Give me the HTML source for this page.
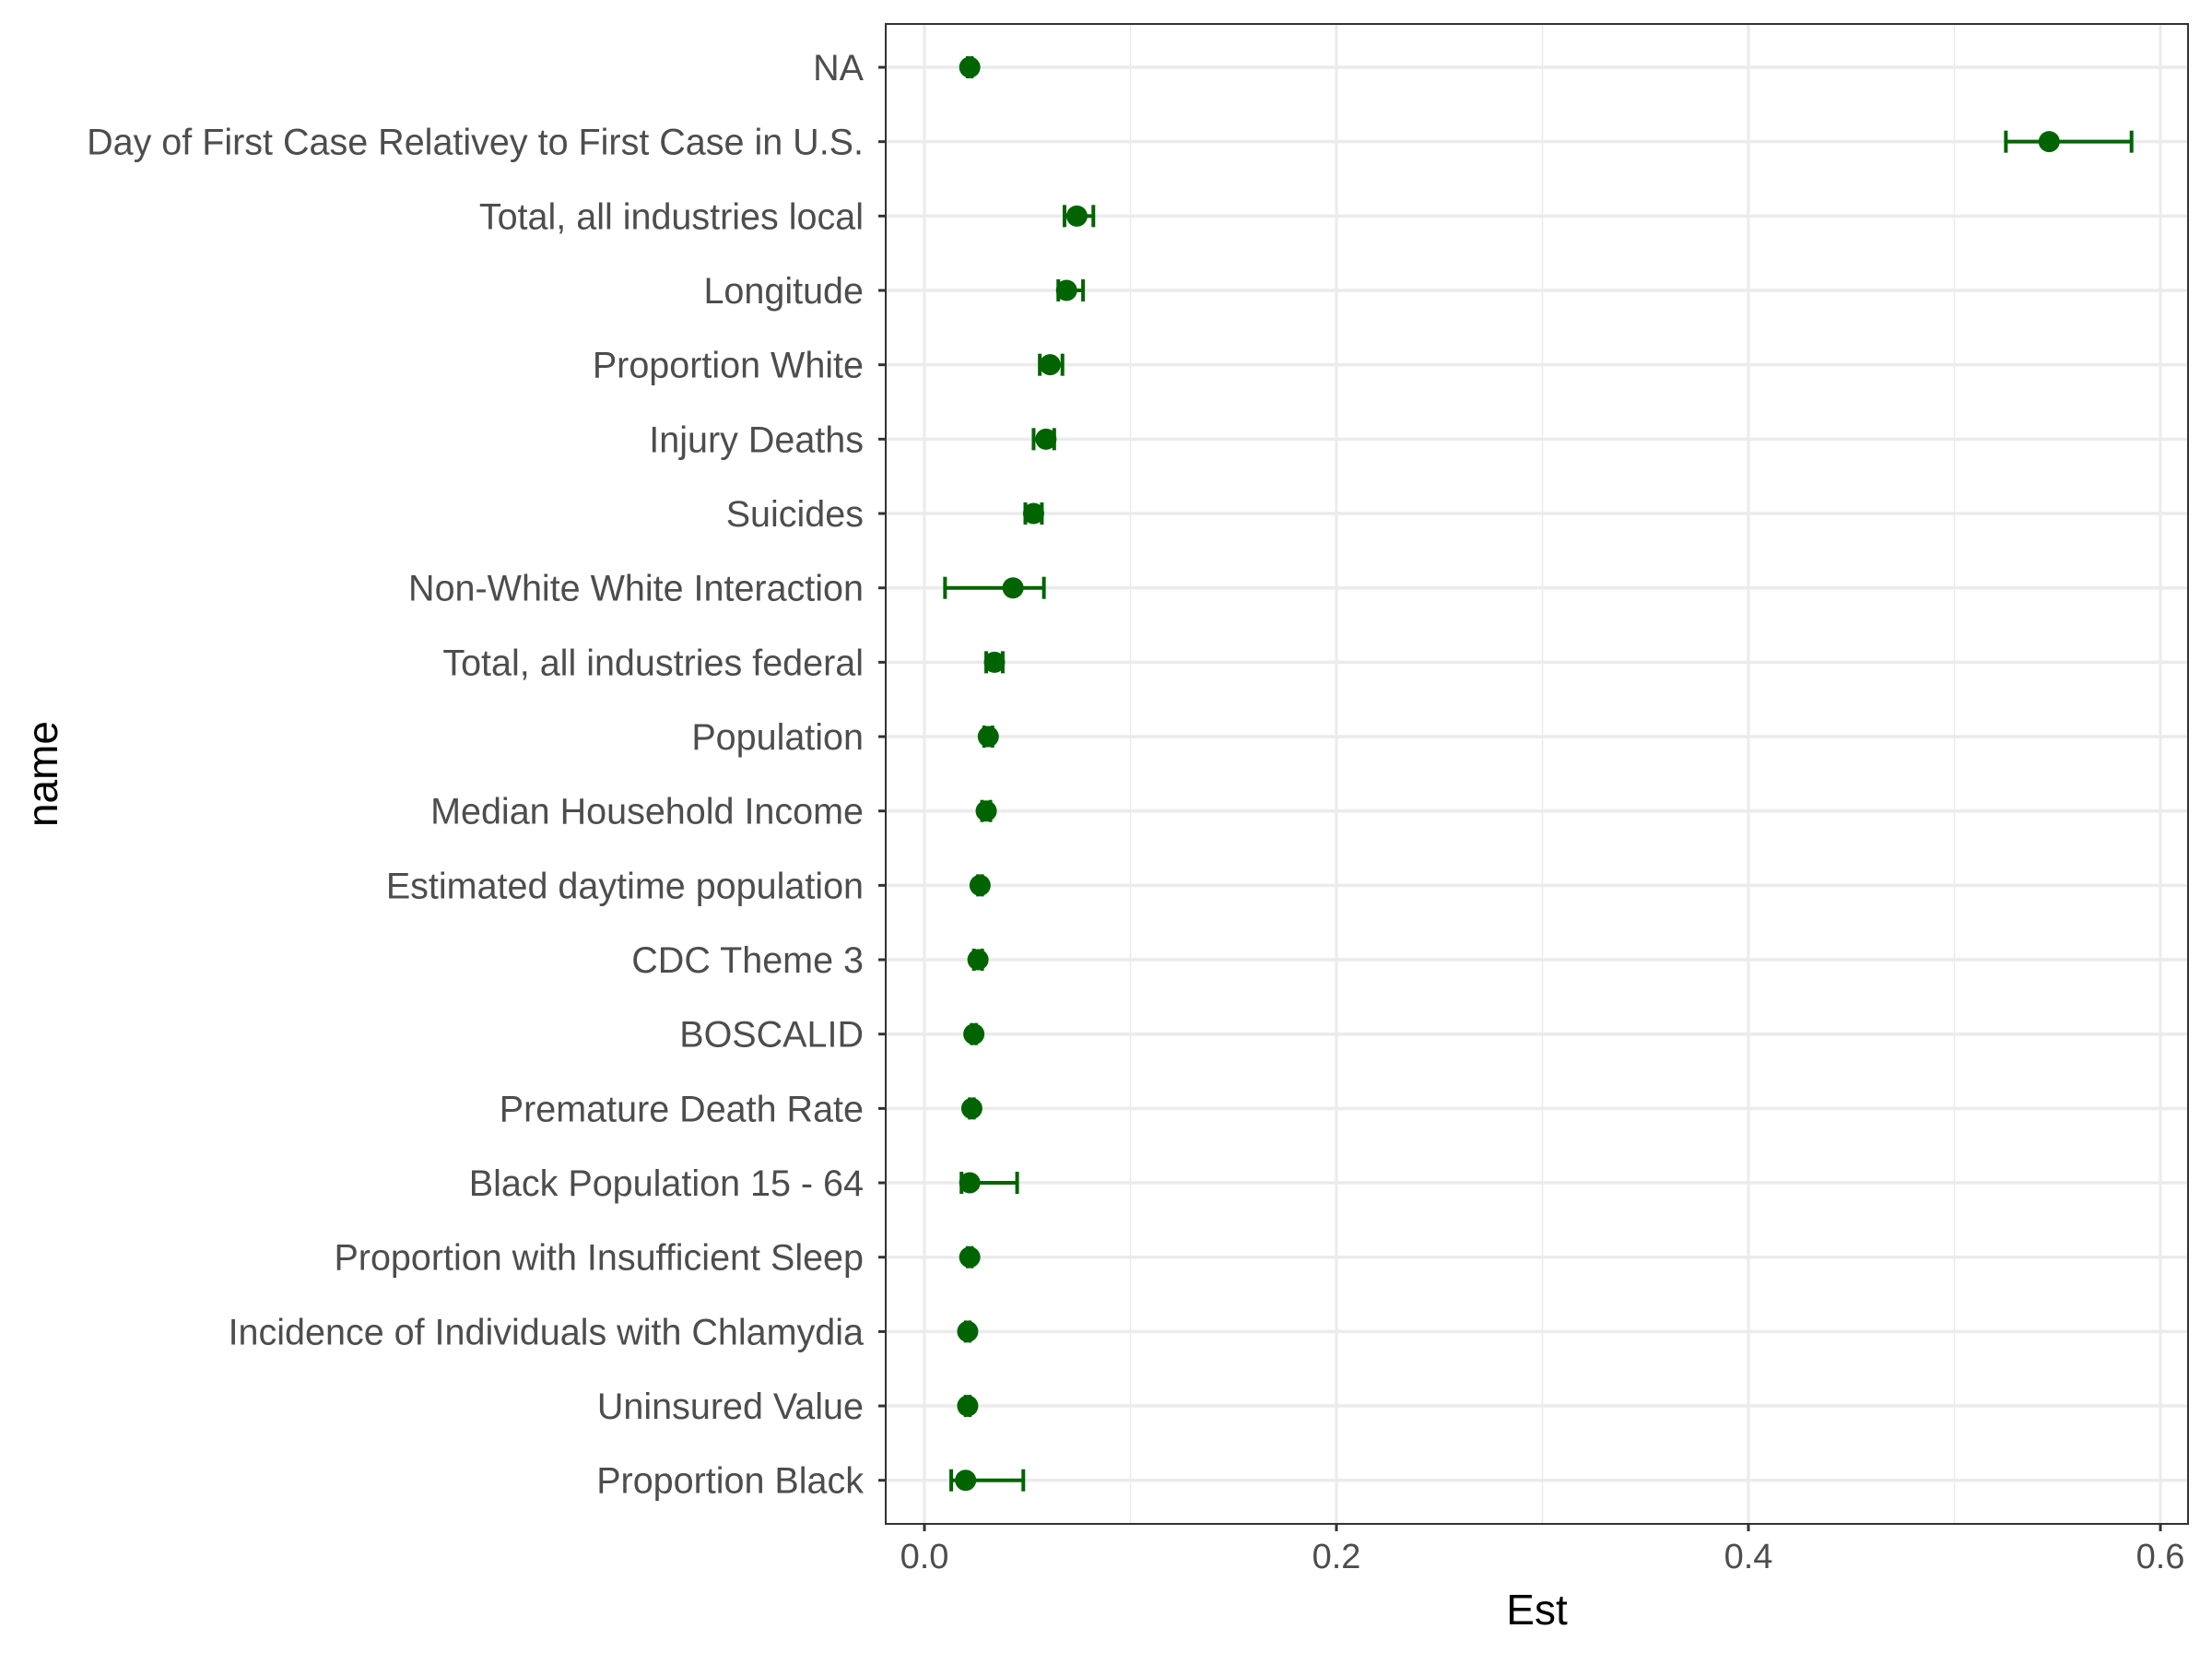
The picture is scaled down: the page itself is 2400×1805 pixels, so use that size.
<!DOCTYPE html>
<html><head><meta charset="utf-8"><style>
body{margin:0;background:#fff}
svg text{font-family:"Liberation Sans",Arial,sans-serif}
</style></head><body>
<svg id="chart" width="2400" height="1800" xmlns="http://www.w3.org/2000/svg"></svg>
<script>
const categories=["NA","Day of First Case Relativey to First Case in U.S.","Total, all industries local","Longitude","Proportion White","Injury Deaths","Suicides","Non-White White Interaction","Total, all industries federal","Population","Median Household Income","Estimated daytime population","CDC Theme 3","BOSCALID","Premature Death Rate","Black Population 15 - 64","Proportion with Insufficient Sleep","Incidence of Individuals with Chlamydia","Uninsured Value","Proportion Black"];
const estimates=[0.022,0.546,0.074,0.069,0.061,0.059,0.053,0.043,0.034,0.031,0.030,0.027,0.026,0.024,0.023,0.022,0.022,0.021,0.021,0.020];
const lower=[0.021,0.525,0.068,0.065,0.056,0.053,0.049,0.010,0.030,0.029,0.028,0.026,0.024,0.023,0.022,0.018,0.021,0.020,0.020,0.013];
const upper=[0.023,0.586,0.082,0.077,0.067,0.063,0.057,0.058,0.038,0.033,0.032,0.028,0.028,0.025,0.024,0.045,0.023,0.022,0.022,0.048];
const xTicks=[0,0.2,0.4,0.6];
const xTickLabels=["0.0","0.2","0.4","0.6"];
const xMinor=[0.1,0.3,0.5];

const svg=document.getElementById('chart');
const NS='http://www.w3.org/2000/svg';
const L=961,R=2374,T=26,B=1653;
const X=v=>1003+v*(1341/0.6);
const Y=i=>73+i*80.67;
function mk(tag,attrs,parent){const e=document.createElementNS(NS,tag);for(const k in attrs)e.setAttribute(k,attrs[k]);(parent||svg).appendChild(e);return e;}

const grid=mk('g',{});


xMinor.forEach(v=>{const l=mk('line',{x1:X(v),x2:X(v),y1:T,y2:B,stroke:'#ebebeb','stroke-width':1.5},grid);

});
xTicks.forEach(v=>{const l=mk('line',{x1:X(v),x2:X(v),y1:T,y2:B,stroke:'#ebebeb','stroke-width':3},grid);

});
categories.forEach((c,i)=>{const l=mk('line',{x1:L,x2:R,y1:Y(i),y2:Y(i),stroke:'#ebebeb','stroke-width':3.5},grid);

});

const marks=mk('g',{});


categories.forEach((c,i)=>{
  const g=mk('g',{stroke:'#006400','stroke-width':4,fill:'none'},marks);
  
  
  mk('line',{x1:X(lower[i]),x2:X(upper[i]),y1:Y(i),y2:Y(i)},g);
  mk('line',{x1:X(lower[i]),x2:X(lower[i]),y1:Y(i)-12,y2:Y(i)+12},g);
  mk('line',{x1:X(upper[i]),x2:X(upper[i]),y1:Y(i)-12,y2:Y(i)+12},g);
  const p=mk('circle',{cx:X(estimates[i]),cy:Y(i),r:11.5,fill:'#006400',stroke:'none'},marks);
  
  
});

const frame=mk('rect',{x:L,y:T,width:R-L,height:B-T,fill:'none',stroke:'#333','stroke-width':2});



const ya=mk('g',{});


categories.forEach((c,i)=>{
  mk('line',{x1:L-8,x2:L,y1:Y(i),y2:Y(i),stroke:'#333','stroke-width':3},ya);
  const t=mk('text',{x:L-24,y:Y(i)+14,'text-anchor':'end','font-size':39.5,fill:'#4d4d4d'},ya);
  t.textContent=c;
  
  
});
const xa=mk('g',{});


xTicks.forEach((v,i)=>{
  mk('line',{x1:X(v),x2:X(v),y1:B,y2:B+8,stroke:'#333','stroke-width':3},xa);
  const t=mk('text',{x:X(v),y:B+48,'text-anchor':'middle','font-size':38,fill:'#4d4d4d'},xa);
  t.textContent=xTickLabels[i];
  
  
});
const xt=mk('text',{x:(L+R)/2,y:1762,'text-anchor':'middle','font-size':46,fill:'#000'});
xt.textContent='Est';


const yt=mk('text',{x:62,y:(T+B)/2,'text-anchor':'middle','font-size':46,fill:'#000',transform:'rotate(-90 62 '+((T+B)/2)+')'});
yt.textContent='name';


</script>
</body></html>
